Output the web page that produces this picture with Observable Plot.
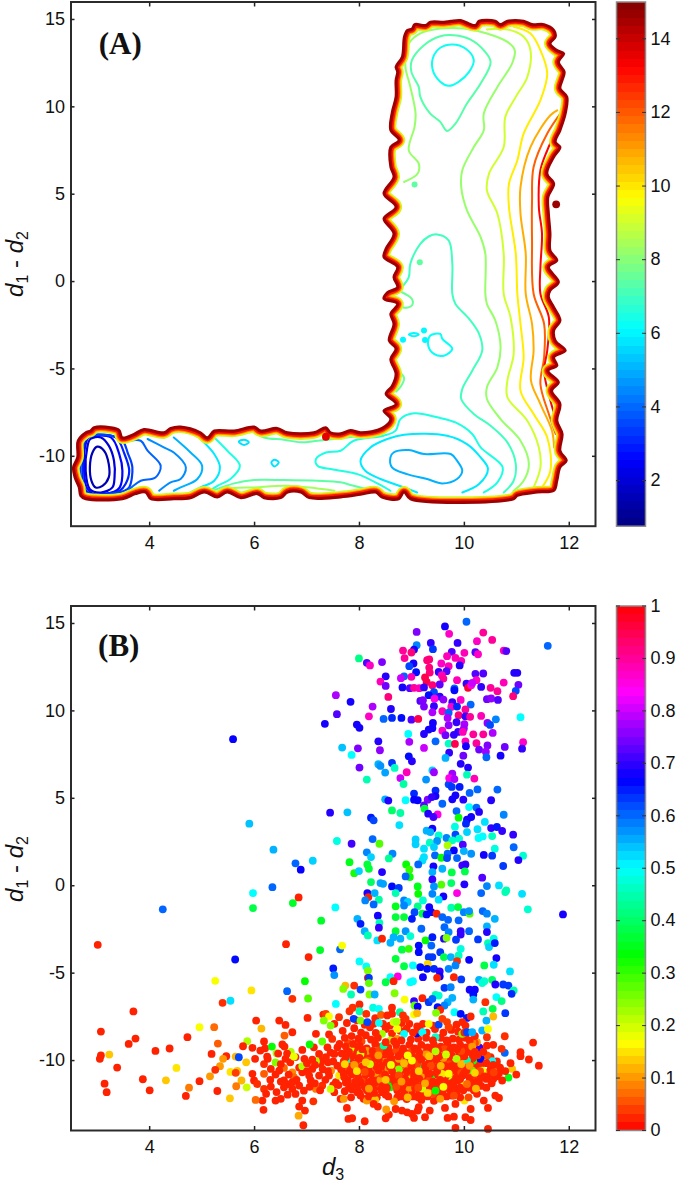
<!DOCTYPE html>
<html><head><meta charset="utf-8">
<script src="https://cdn.jsdelivr.net/npm/d3@7"></script>
<script src="https://cdn.jsdelivr.net/npm/@observablehq/plot@0.6"></script>
<style>
html,body{margin:0;background:#fff}
#fig{position:relative;width:677px;height:1188px;overflow:hidden;font-family:"Liberation Sans",Arial,sans-serif;color:#111}
#fig svg{position:absolute;overflow:visible;background:transparent}
.lab{position:absolute;font-size:24px;white-space:nowrap;line-height:24px}
.lab i{font-style:italic}
.lab sub{font-size:16px;vertical-align:-5px;line-height:0}
.rot{transform:translate(-50%,-50%) rotate(-90deg)}
</style></head><body>
<div id="fig">
<div class="lab rot" style="left:15px;top:264px"><i>d</i><sub>1</sub> - <i>d</i><sub>2</sub></div>
<div class="lab rot" style="left:15px;top:869px"><i>d</i><sub>1</sub> - <i>d</i><sub>2</sub></div>
<div class="lab" style="left:322px;top:1155px"><i>d</i><sub>3</sub></div>
</div>
<script>
const xTicks=[4,6,8,10,12];
const yTicks=[-10,-5,0,5,10,15];
const barTicksA=[2,4,6,8,10,12,14];
const barTicksB=[0,.1,.2,.3,.4,.5,.6,.7,.8,.9,1];
const xDomain=[2.5,12.5], yDomain=[-14,16];
const energyDomain=[0.76,15], fractionDomain=[0,1];
const jetStops=["#000080","#0000ff","#0080ff","#00ffff","#80ff80","#ffff00","#ff8000","#ff0000","#800000"];
const hsvStops=["#ff0000","#ffff00","#00ff00","#00ffff","#0000ff","#ff00ff","#ff0000"];

// free-energy contours: [level, closed?, d3, d1-d2, d3, d1-d2, ...]
const boundary=[8.85,14.01,8.91,14.39,9.0,14.48,9.05,14.73,9.26,14.68,9.35,14.87,9.61,14.87,9.74,14.92,9.93,14.96,10.09,14.77,10.21,14.68,10.28,14.92,10.59,14.92,10.69,14.73,10.82,14.92,11.13,14.92,11.29,14.73,11.52,14.73,11.71,14.39,11.74,14.01,11.64,13.62,11.77,13.24,11.9,13.05,11.8,12.57,11.91,12.0,11.87,11.52,11.83,11.05,11.96,10.57,11.93,9.61,11.83,8.66,11.74,7.99,11.83,7.7,11.71,7.13,11.58,6.18,11.71,5.6,11.6,4.84,11.61,3.88,11.64,2.74,11.64,1.78,11.77,1.21,11.61,.83,11.8,-.03,11.64,-.51,11.61,-.89,11.71,-1.47,11.83,-2.23,11.71,-2.8,11.74,-3.38,11.93,-3.95,11.71,-4.33,11.77,-4.81,11.6,-5.1,11.8,-5.76,11.67,-6.24,11.83,-7.01,11.77,-7.96,11.87,-8.72,11.83,-9.68,11.95,-10.25,11.83,-10.63,11.77,-11.4,11.71,-11.97,11.39,-12.07,11.01,-12.26,10.94,-12.45,8.97,-12.45,8.85,-12.07,8.75,-12.45,8.43,-12.36,8.31,-12.07,8.02,-12.2,7.64,-12.35,7.04,-12.39,6.88,-12.07,6.63,-12.07,6.5,-12.39,6.18,-12.39,6.05,-12.16,5.74,-12.39,5.48,-12.07,5.29,-12.35,5.04,-12.07,4.78,-12.39,4.46,-12.45,4.02,-12.45,3.92,-12.07,3.73,-12.16,3.48,-12.45,2.78,-12.45,2.68,-12.26,2.65,-11.78,2.57,-11.21,2.54,-10.63,2.62,-10.06,2.63,-9.11,2.78,-8.63,2.87,-8.53,2.94,-8.34,3.26,-8.34,3.42,-8.5,3.48,-8.92,3.7,-8.72,3.89,-8.44,4.27,-8.63,4.4,-8.38,4.59,-8.3,4.97,-8.63,5.1,-8.92,5.23,-8.53,5.61,-8.53,5.99,-8.3,6.12,-8.53,6.43,-8.38,6.63,-8.63,7.13,-8.63,7.36,-8.34,7.45,-8.63,7.64,-8.69,7.83,-8.5,8.02,-8.63,8.43,-8.38,8.59,-7.87,8.46,-7.39,8.69,-7.01,8.5,-6.43,8.62,-5.96,8.69,-5.29,8.59,-4.43,8.69,-3.85,8.56,-3.38,8.65,-2.42,8.59,-1.85,8.72,-1.28,8.46,-.99,8.53,-.61,8.72,-.32,8.65,.25,8.72,.83,8.46,1.4,8.5,1.88,8.65,2.74,8.46,3.6,8.69,4.27,8.46,5.03,8.65,5.98,8.59,6.56,8.59,7.7,8.75,8.09,8.59,8.66,8.62,9.71,8.69,10.57,8.69,11.52,8.72,12.0,8.69,12.29,8.81,12.86];
const contours=[
[1.5,1,3.0,-9.45,3.13,-9.68,3.22,-10.44,3.22,-11.21,3.1,-11.69,2.97,-11.78,2.89,-11.4,2.86,-10.63,2.91,-9.78],
[2.0,1,3.07,-8.92,3.22,-9.39,3.32,-10.25,3.33,-11.21,3.29,-11.78,3.07,-12.07,2.86,-11.88,2.78,-10.83,2.81,-9.49,2.87,-9.01],
[2.6,1,3.26,-8.92,3.42,-9.87,3.48,-10.83,3.43,-11.78,3.32,-12.03,2.94,-12.16,2.8,-11.78,2.75,-10.83,2.78,-9.3,2.84,-8.92],
[3.0,1,3.35,-8.92,3.52,-9.87,3.61,-10.83,3.54,-11.59,3.43,-11.97,3.07,-12.16,2.87,-12.16,2.75,-11.78,2.72,-10.83,2.75,-9.3,2.82,-8.88],
[3.4,1,3.45,-9.01,3.59,-9.87,3.67,-10.63,3.61,-11.78,3.52,-11.97,3.07,-12.2,2.84,-12.2,2.72,-11.78,2.68,-10.83,2.72,-9.49,2.8,-8.88],
[3.9,0,3.61,-9.11,3.83,-9.11,3.96,-9.68,4.21,-10.54,4.11,-11.21,3.83,-11.4,3.61,-11.88],
[4.5,0,3.96,-9.01,4.27,-9.49,4.46,-9.78,4.69,-10.63,4.59,-11.3,4.4,-11.49,4.18,-11.97],
[5.0,0,4.46,-8.92,4.78,-9.78,5.0,-10.54,4.91,-11.3,4.59,-11.78,4.46,-11.97],
[5.8,0,4.97,-9.01,5.23,-9.87,5.34,-10.63,5.23,-11.4,4.97,-11.78,4.78,-12.07],
[6.5,0,5.26,-9.01,5.48,-9.68,5.72,-10.54,5.54,-11.3,5.29,-11.69,5.1,-12.07],
[5.7,1,5.7,-9.16,5.8,-9.05,5.89,-9.2,5.8,-9.35],
[5.7,1,6.32,-10.35,6.38,-10.2,6.46,-10.35,6.38,-10.58],
[7.4,0,5.2,-11.97,5.61,-11.55,5.99,-11.36,6.56,-11.36,7.2,-11.4,7.64,-11.49,7.89,-11.69,8.27,-11.97],
[8.4,0,5.29,-12.01,5.61,-11.82,5.99,-11.78,6.63,-11.69,7.52,-11.97],
[7.4,0,6.02,-8.63,6.18,-8.92,6.56,-9.05,6.88,-9.2,7.2,-9.11,7.64,-8.97,8.02,-8.82,8.34,-8.72],
[6.5,0,8.59,-11.97,8.37,-11.59,7.96,-11.02,7.64,-10.83,7.45,-10.73,7.2,-10.54,7.17,-10.16,7.36,-9.78,7.64,-9.68,7.89,-9.11,8.46,-8.82,8.69,-8.53,8.78,-7.87,9.04,-7.54,9.48,-7.77,9.83,-8.06,10.15,-8.72,10.31,-9.49,10.73,-10.63,10.63,-11.49,10.37,-12.07],
[5.8,0,9.1,-12.07,8.85,-11.78,8.4,-11.3,8.11,-10.83,8.02,-10.25,8.21,-9.49,8.53,-9.01,8.85,-8.76,9.67,-8.82,10.05,-9.3,10.31,-10.06,10.45,-10.73,10.28,-11.59,9.96,-12.07],
[5.0,1,8.59,-10.06,8.65,-9.78,8.94,-9.64,9.23,-9.87,9.74,-9.87,9.86,-10.25,9.96,-10.83,9.86,-11.3,9.58,-11.55,9.29,-11.3,8.91,-11.02,8.62,-10.63],
[6.2,1,9.35,-3.09,9.54,-3.0,9.58,-3.28,9.77,-3.85,9.61,-4.24,9.42,-4.14,9.31,-3.66],
[6.0,1,8.94,-3.03,9.04,-2.94,9.13,-3.03,9.04,-3.13],
[7.0,0,8.81,-.32,8.94,.25,8.97,1.02,9.16,2.16,9.32,2.58,9.48,2.7,9.7,2.36,9.77,1.02,9.77,-.7,9.83,-1.28,10.09,-2.13,10.28,-2.99,10.34,-3.95,10.15,-5.1,9.96,-6.15,9.94,-6.72,10.18,-7.58,10.5,-8.25,10.82,-9.2,10.98,-10.44,10.94,-11.4,10.75,-12.07],
[7.6,0,8.81,-.61,9.0,-1.0,9.0,-1.37,8.85,-1.5,8.75,-1.3],
[7.6,0,8.72,-5.1,8.85,-5.5,8.8,-5.95,8.7,-6.3],
[8.2,0,8.85,5.7,9.11,6.18,9.13,6.75,8.94,7.51,9.05,8.85,9.07,9.61,8.97,11.14,8.88,12.19,8.88,12.86,8.94,13.62,9.16,14.2,9.54,14.48,9.99,14.48,10.43,14.2,10.82,13.72,10.96,13.24,10.91,12.48,10.63,11.14,10.37,9.61,10.37,8.66,10.18,7.7,9.96,6.37,9.94,5.41,10.05,4.07,10.31,2.55,10.4,1.59,10.4,-.7,10.43,-1.28,10.59,-2.23,10.69,-3.76,10.63,-4.9,10.43,-6.05,10.43,-6.72,10.69,-7.87,11.07,-9.11,11.23,-10.44,11.13,-11.4,10.94,-11.97],
[7.3,1,9.67,8.62,9.54,9.14,9.35,9.61,9.16,10.57,9.13,11.14,8.99,12.0,9.0,12.67,9.23,13.53,9.54,14.04,9.8,14.1,10.12,13.85,10.37,13.24,10.5,12.57,10.31,11.33,10.05,10.19,9.83,9.04],
[6.3,1,9.77,13.57,10.02,13.34,10.18,12.67,10.09,12.0,9.89,11.43,9.7,11.2,9.54,11.43,9.39,12.19,9.42,12.96,9.54,13.38],
[9.0,0,10.43,14.43,10.82,14.43,11.13,14.01,11.26,13.24,11.2,11.71,10.98,10.57,10.78,9.42,10.75,7.7,10.47,6.18,10.43,5.22,10.63,3.88,10.75,1.59,10.75,-.7,10.88,-2.04,10.94,-4.14,10.82,-5.67,10.82,-6.62,11.2,-7.96,11.42,-9.49,11.45,-10.63,11.32,-11.78],
[9.9,0,10.94,14.58,11.26,14.2,11.45,13.24,11.58,11.91,11.45,10.38,11.13,8.47,11.01,6.94,10.85,5.6,10.85,4.27,10.98,1.59,11.01,-.7,11.07,-2.42,11.13,-4.33,11.07,-6.24,11.32,-7.58,11.58,-8.92,11.64,-10.83,11.48,-11.78],
[10.8,0,11.77,9.8,11.64,9.52,11.26,7.7,11.07,5.41,11.07,3.88,11.17,1.59,11.17,-.7,11.29,-2.42,11.32,-3.95,11.27,-5.67,11.45,-7.01,11.67,-8.53,11.71,-9.49],
[11.9,0,11.83,9.61,11.58,8.47,11.32,6.56,11.29,4.65,11.29,2.36,11.32,-.7,11.52,-2.42,11.52,-4.33,11.45,-5.86,11.61,-7.58,11.74,-8.72],
[13.2,0,11.77,8.76,11.58,7.51,11.45,6.37,11.42,4.27,11.48,2.74,11.45,.83,11.45,-.7,11.61,-2.04,11.58,-3.95,11.52,-5.1,11.64,-6.81,11.77,-8.15]
];
// stray points: level, d3, d1-d2
const islandDots=[6.0,8.83,-3.33,6.0,9.25,-3.35,6.0,9.23,-2.8,7.4,9.15,1.11,7.4,9.05,5.55,14.6,11.75,4.42,13.6,7.36,-8.88];

// scatter of panel B: d3, d1-d2, fraction
const topPts=[5.59,8.38,.67,7.99,13.0,.42,7.55,10.9,.78,7.83,10.52,.68,7.57,9.81,.72,7.34,9.26,.68,7.95,9.22,.68,8.0,9.03,.68,7.67,7.9,.54,7.97,7.86,.75,7.85,7.48,.5,8.0,6.76,.74,7.44,4.18,.69,7.77,4.2,.54,5.9,3.55,.54,6.36,2.06,.55,7.57,2.56,.48,7.85,2.4,.71,6.78,1.28,.6,6.88,.92,.67,7.11,1.43,.53,7.81,1.35,.35,7.9,.72,.32,7.99,.84,.53,6.34,-.08,.6,
10.04,15.1,.6,9.63,14.83,.68,9.09,14.52,.75,9.71,14.41,.87,10.36,14.48,.9,10.24,13.99,.87,10.53,14.06,.9,9.36,13.89,.7,9.87,13.89,.7,9.09,13.76,.58,9.4,13.53,.63,9.04,13.51,.68,8.83,13.45,.9,8.99,13.34,.92,8.86,13.02,.9,9.76,13.38,.72,10.0,13.32,.88,10.21,13.36,.72,10.26,13.24,.87,10.75,13.45,.88,10.8,13.42,.72,11.59,13.72,.6,8.14,12.75,.72,8.2,12.6,.87,8.43,12.79,.75,9.67,13.13,.88,9.83,13.03,.88,9.94,12.86,.88,9.91,12.6,.69,9.29,12.9,.92,9.33,12.94,.92,9.56,12.71,.87,9.7,12.56,.88,9.33,12.48,.92,9.03,12.71,.68,8.95,12.56,.62,9.34,12.19,.92,9.08,12.21,.66,9.51,12.23,.7,9.66,12.27,.72,9.57,12.04,.88,8.85,11.98,.6,8.5,11.98,.69,8.79,11.87,.8,8.99,11.95,.88,9.25,11.91,.95,9.28,11.66,.95,9.6,11.85,.9,10.21,12.12,.72,10.36,12.14,.72,10.95,12.18,.69,11.01,12.18,.69,8.4,11.68,.88,8.5,11.43,.74,9.86,11.76,.88,10.04,11.56,.7,10.07,11.32,.97,10.13,11.47,.85,10.23,11.76,.87,10.15,11.6,.8,10.75,11.62,.88,11.03,11.49,.74,9.53,11.51,.73,9.39,11.47,.92,8.82,11.34,.68,8.96,11.3,.72,9.04,11.32,.9,9.14,11.3,.88,9.23,11.34,.7,9.81,11.28,.6,9.81,11.18,.66,10.32,11.37,.7,10.5,11.32,.9,10.63,11.13,.9,10.98,11.15,.62,10.93,10.84,.92,8.55,10.8,.92,9.42,11.07,.62,9.32,10.9,.66,9.53,10.82,.7,9.43,10.7,.85,9.16,10.57,.72,9.21,10.61,.75,9.6,10.65,.76,9.77,10.5,.7,9.93,10.63,.87,10.43,10.67,.74,10.51,10.71,.76,10.64,10.63,.72,10.12,10.36,.6,9.23,10.25,.75,9.42,10.27,.7,8.25,10.25,.78,8.6,10.11,.69,9.75,10.23,.87,9.86,10.25,.64,10.02,10.08,.9,9.58,9.98,.88,9.39,9.92,.78,9.7,9.9,.6,9.68,9.6,.78,9.89,9.75,.92,10.02,9.69,.7,10.11,9.66,.9,10.32,9.71,.88,10.6,9.52,.58,11.07,9.64,.5,8.18,9.69,.87,8.46,9.54,.6,8.62,9.6,.64,8.8,9.6,.66,8.99,9.5,.72,9.12,9.54,.95,9.4,9.31,.68,9.85,9.35,.7,10.44,9.31,.76,10.49,9.2,.62,10.0,9.24,.78,9.7,9.18,.76,9.39,9.01,.68,9.32,8.93,.68,9.99,8.99,.77,9.23,8.68,.69,9.58,8.87,.87,9.64,8.61,.74,9.8,8.63,.7,9.88,8.8,.7,9.97,8.8,.88,10.17,8.66,.9,10.36,8.66,.9,10.54,8.74,.78,8.93,8.68,.5,8.95,8.23,.78,8.36,8.26,.69,9.45,8.26,.6,9.7,8.13,.46,9.82,8.11,.95,10.02,8.26,.88,10.23,8.15,.9,10.03,7.98,.68,10.44,8.02,.75,11.12,8.21,.87,11.1,7.84,.7,10.77,7.94,.74,10.28,7.79,.74,10.41,7.67,.77,8.39,7.75,.76,9.23,7.88,.8,9.71,7.61,.7,10.69,7.44,.68,9.98,7.44,.74,10.42,7.35,.6,9.64,7.31,.55,8.94,7.4,.66,9.0,7.12,.69,8.62,7.02,.63,8.36,6.95,.55,8.4,6.85,.57,9.93,6.97,.69,10.07,6.76,.69,8.67,6.74,.46,8.49,6.47,.56,9.39,6.6,.53,9.42,6.49,.77,8.9,6.49,.88,9.77,6.41,.77,10.05,6.35,.45,8.78,6.16,.8,8.14,6.07,.45,9.27,6.07,.57,9.71,6.16,.85,9.81,6.1,.78,10.19,6.13,.88,8.84,5.82,.44];
const midPts=[9.7,5.8,.62,9.76,5.65,.63,9.91,5.65,.65,10.25,5.51,.6,10.63,5.5,.6,9.45,5.44,.64,9.04,5.27,.64,10.1,5.31,.6,9.83,5.17,.68,9.45,5.13,.68,9.3,4.92,.75,9.38,5.07,.7,9.04,4.92,.67,9.11,4.89,.67,9.77,4.94,.68,9.98,4.92,.69,10.51,4.89,.69,8.49,4.94,.55,8.55,4.87,.69,8.88,4.89,.5,9.23,4.6,.73,9.58,4.69,.6,10.09,4.5,.5,10.23,4.47,.6,9.24,4.41,.37,8.62,4.31,.4,8.78,4.16,.44,9.85,4.27,.6,10.28,4.22,.69,9.31,4.12,.69,9.49,4.08,.85,9.41,3.93,.71,10.75,4.06,.58,10.13,3.93,.68,9.89,3.89,.33,10.05,3.78,.68,10.03,3.55,.64,8.22,3.89,.65,8.27,3.74,.62,10.39,3.65,.52,8.76,3.47,.52,9.82,3.38,.48,10.51,3.3,.7,10.62,3.36,.65,10.72,3.13,.7,9.28,3.15,.55,9.39,3.26,.68,9.35,3.07,.55,10.05,3.07,.53,10.25,3.23,.52,9.83,2.92,.62,10.93,2.92,.7,9.51,2.88,.47,9.66,2.73,.58,9.77,2.6,.46,9.9,2.69,.47,10.27,2.73,.5,10.35,2.82,.5,10.53,2.84,.46,8.25,2.67,.6,8.38,2.4,.28,9.07,2.65,.53,9.07,2.37,.53,9.34,2.46,.46,9.48,2.56,.57,9.68,2.31,.22,9.8,2.02,.67,9.97,2.35,.72,9.23,2.12,.52,9.42,2.21,.53,9.99,1.98,.55,10.13,1.83,.57,10.58,2.12,.48,10.94,2.2,.6,8.14,1.91,.58,8.22,1.64,.53,8.63,1.83,.58,8.56,1.56,.43,9.44,1.74,.6,9.56,1.6,.33,9.68,1.83,.6,9.67,1.58,.62,9.86,1.58,.6,10.37,1.76,.68,10.53,1.72,.63,11.12,1.72,.47,11.03,1.47,.69,9.23,1.64,.52,9.2,1.45,.52,8.15,1.22,.37,8.18,.97,.37,8.89,1.22,.33,9.12,1.22,.6,9.58,.97,.55,9.41,1.11,.68,9.96,1.16,.71,10.02,1.22,.7,10.74,1.13,.63,8.43,.78,.69,8.95,.92,.3,8.96,.5,.33,8.88,.53,.6,9.39,.78,.55,9.76,.76,.38,10.01,.82,.38,9.39,.36,.7,10.34,.46,.72,8.22,.21,.4,8.4,.15,.56,8.45,.11,.56,8.62,-.04,.66,8.75,-.13,.63,9.11,-.04,.35,9.56,.06,.28,9.42,-.04,.57,9.75,.15,.4,10.0,.08,.69,10.43,-.02,.58,10.66,.02,.52,10.8,-.27,.45,11.1,-.46,.52,
3.01,-3.38,.01,4.25,-1.35,.6,5.97,-.42,.5,6.84,-.67,.01,5.97,-1.28,.38,6.73,-.99,.36,7.54,-1.24,.5,7.27,-2.0,.36,6.6,-3.34,.01,7.25,-3.68,.36,5.63,-4.22,.66,7.03,-4.08,.01,7.63,-3.64,.6,7.5,-4.73,.65,7.52,-5.11,.57,5.25,-5.44,.17,6.96,-5.46,.33,5.94,-5.99,.15,6.62,-6.03,.6,5.54,-6.58,.52,5.39,-6.7,.03,6.72,-6.47,.03,7.02,-6.45,.28,7.55,-6.76,.5,
8.15,-.42,.68,8.17,-.65,.02,8.29,-.42,.55,8.11,-.84,.58,8.37,-.8,.44,8.27,-1.07,.6,8.69,-.42,.45,8.85,-.84,.58,8.92,-.93,.53,9.12,-.46,.33,9.21,-.84,.47,9.39,-.46,.58,9.6,-.61,.68,9.51,-.8,.52,8.85,-1.13,.58,8.69,-1.18,.35,9.11,-1.18,.42,9.33,-1.22,.68,9.05,-1.51,.62,9.2,-1.6,.38,9.28,-1.64,.66,9.37,-1.51,.66,9.47,-1.6,.02,9.75,-1.26,.45,9.88,-1.22,.37,9.99,-1.51,.58,10.1,-1.6,.28,10.09,-1.45,.57,10.35,-1.45,.6,10.43,-1.6,.58,10.58,-1.89,.55,11.21,-1.35,.47,10.78,-.36,.45,10.32,-.42,.6,9.86,-.42,.85,11.88,-1.64,.68,8.35,-1.71,.68,8.69,-1.79,.37,8.85,-1.79,.37,9.0,-1.89,.65,7.96,-1.89,.55,8.02,-2.18,.65,8.38,-2.12,.45,8.37,-2.4,.7,9.18,-2.46,.6,9.58,-1.79,.6,9.69,-1.95,.6,9.89,-1.98,.6,9.62,-2.37,.6,9.7,-2.65,.58,10.43,-2.33,.55,10.43,-2.65,.69,9.93,-2.6,.7,9.93,-2.79,.7,10.09,-2.6,.6,8.69,-2.6,.37,8.88,-2.6,.57,8.1,-2.6,.55,8.16,-2.84,.45,8.34,-3.13,.52,8.43,-3.03,.01,8.59,-3.26,.55,8.65,-2.94,.55,8.78,-3.03,.55,8.97,-2.88,.47,9.26,-3.13,.33,9.39,-2.94,.65,9.37,-3.42,.6,9.61,-3.03,.69,9.66,-2.98,.25,9.84,-3.09,.63,10.26,-3.07,.63,10.45,-3.28,.45,10.47,-3.51,.53,10.56,-3.03,.48,10.58,-3.28,.65,9.13,-3.42,.66,9.13,-3.8,.66,8.81,-3.66,.38,8.94,-3.61,.3,9.93,-3.61,.48,9.89,-3.99,.46,9.54,-3.8,.63,9.39,-4.08,.63,9.32,-4.08,.63,9.61,-4.08,.38,9.74,-4.08,.55,8.69,-4.18,.37,9.86,-4.31,.03,10.09,-4.24,.67,10.61,-4.14,.68,10.38,-4.56,.38,10.56,-4.52,.52,8.0,-4.33,.5,8.13,-4.62,.5,8.16,-4.85,.25,8.85,-4.6,.38,9.02,-4.56,.5,9.3,-4.47,.14,9.16,-4.66,.66,9.29,-4.75,.66,9.42,-4.75,.64,9.53,-4.9,.7,9.7,-4.75,.58,9.83,-4.56,.58,10.87,-4.9,.52,9.21,-5.23,.68,9.53,-5.19,.67,9.48,-5.27,.02,9.8,-5.23,.02,9.94,-5.36,.63,8.73,-5.19,.85,8.59,-5.23,.5,8.5,-5.52,.38,8.65,-5.46,.02,8.16,-5.27,.02,8.18,-5.27,.63,8.18,-5.57,.27,8.97,-5.52,.5,9.02,-5.46,.5,10.28,-5.38,.55,10.38,-5.46,.47,10.53,-5.38,.4,10.34,-5.57,.47,10.59,-5.65,.69,10.74,-5.65,.63,10.84,-5.71,.63,10.94,-5.99,.45,10.9,-6.18,.64,7.67,-3.42,.17,7.73,-5.71,.12,7.69,-5.9,.25,7.9,-5.71,.03,8.02,-5.94,.62,7.84,-6.22,.45,8.19,-6.22,.25,8.29,-6.22,.55,8.67,-6.15,.25,9.62,-5.84,.63,9.74,-5.8,.58,10.1,-5.95,.68,10.2,-5.95,.68,10.17,-6.22,.66,10.17,-6.51,.55,9.45,-6.24,.45,9.51,-6.28,.47,9.2,-6.43,.02,9.04,-6.6,.7,8.86,-6.51,.17,9.05,-6.85,.27,9.11,-6.91,.67,9.32,-6.66,.63,9.39,-6.47,.6,9.77,-6.41,.55,9.68,-6.66,.55,9.62,-6.85,.58,10.4,-6.66,.03,10.61,-6.37,.5,10.71,-6.6,.42,10.54,-7.04,.38,10.36,-7.19,.45,10.78,-7.29,.63,10.55,-7.48,.12,10.42,-7.71,.55,9.49,-6.95,.66,9.54,-7.1,.02,9.46,-7.27,.25,9.81,-7.23,.5,9.93,-7.33,.66,10.05,-7.56,.65,10.12,-7.48,.02,8.26,-6.98,.48,8.37,-7.04,.5,8.62,-6.98,.02,8.77,-7.23,.44,9.04,-7.37,.17,9.1,-7.29,.12,7.87,-6.98,.03,7.81,-7.18,.03,8.0,-6.79,.02,8.0,-7.18,.45,8.13,-7.33,.03,7.89,-7.61,.63,8.02,-7.71,.25,8.3,-7.58,.02,8.41,-7.39,.06,8.53,-7.42,.02,8.62,-7.33,.02,8.83,-7.42,.03,8.88,-7.61,.03,8.65,-7.8,.2,8.71,-7.77,.22,8.27,-7.9,.02,8.15,-7.8,.62,8.37,-7.84,.5,9.21,-7.9,.02,9.51,-7.94,.62,9.32,-7.9,.17,9.58,-7.61,.04,9.67,-7.8,.04,9.7,-8.09,.04,9.96,-7.8,.02,10.02,-8.0,.02,10.05,-8.38,.62,10.15,-8.38,.55,10.34,-8.28,.55,10.45,-8.19,.17];
const leftPts=[3.69,-7.19,.01,3.07,-8.34,.01,7.01,-7.56,.01,7.31,-7.37,.01,7.36,-7.33,.04,7.42,-7.48,.17,6.03,-7.71,.01,6.47,-7.71,.02,6.59,-7.96,.02,4.95,-8.09,.17,5.23,-8.09,.07,6.13,-8.17,.12,7.52,-7.9,.01,7.61,-7.52,.03,3.73,-8.74,.01,3.6,-9.05,.01,4.72,-8.66,.01,6.72,-8.38,.02,7.17,-8.47,.02,7.42,-8.51,.02,7.32,-7.71,.25,7.45,-8.0,.25,6.57,-8.57,.06,6.18,-8.91,.02,5.86,-8.89,.22,5.3,-9.03,.06,5.78,-9.18,.01,5.96,-9.27,.01,6.53,-9.08,.01,6.57,-9.2,.01,4.38,-9.31,.01,4.11,-9.45,.01,3.07,-9.71,.01,3.05,-9.9,.01,3.23,-9.66,.13,5.18,-9.62,.01,5.46,-9.75,.01,5.4,-9.9,.1,5.64,-9.77,.12,5.7,-9.81,.62,6.11,-9.43,.01,6.24,-9.77,.01,6.01,-9.9,.01,6.91,-9.39,.01,7.13,-9.24,.01,7.23,-9.62,.01,7.48,-8.76,.03,7.39,-9.24,.01,7.58,-9.24,.01,3.38,-10.4,.01,4.51,-10.42,.15,5.34,-10.32,.1,5.84,-10.1,.13,5.67,-10.59,.13,5.54,-10.65,.15,5.25,-10.53,.03,5.64,-10.7,.04,5.96,-10.76,.01,6.18,-10.2,.03,6.18,-10.76,.06,6.31,-10.48,.01,6.59,-9.9,.01,6.56,-10.42,.07,6.47,-10.57,.01,6.72,-10.67,.09,6.91,-10.67,.01,6.75,-10.95,.07,7.1,-10.48,.01,7.26,-10.19,.01,7.46,-10.57,.09,7.58,-10.29,.01,7.36,-9.81,.01,7.52,-9.62,.01,5.15,-10.9,.1,3.87,-11.07,.01,4.31,-11.13,.13,4.95,-11.18,.01,3.14,-11.32,.01,5.75,-11.14,.12,5.65,-11.47,.08,5.85,-11.53,.2,4.75,-11.55,.08,4.0,-11.7,.01,3.18,-11.81,.01,5.29,-11.74,.02,4.69,-12.02,.01,5.53,-12.16,.13,5.99,-11.14,.01,6.05,-11.34,.03,6.18,-11.62,.03,6.31,-11.49,.01,6.56,-11.14,.01,6.72,-11.24,.01,6.56,-11.53,.01,6.72,-11.62,.01,6.85,-11.43,.01,6.94,-11.72,.01,6.63,-11.95,.01,6.78,-11.91,.01,6.5,-12.19,.01,6.4,-12.29,.01,6.15,-12.29,.01,6.02,-12.25,.07,6.91,-12.29,.01,6.85,-12.63,.01,6.96,-12.86,.01,6.17,-12.82,.01,7.12,-12.33,.03,6.84,-13.15,.11,6.93,-13.7,.01,7.07,-11.14,.01,7.17,-11.62,.08,7.29,-11.43,.03,7.52,-11.81,.01,7.64,-12.19,.01,7.55,-11.24,.01,7.42,-10.86,.01,7.23,-10.86,.01,7.04,-10.86,.01];
const cloudRed=[7.72,-8.7,7.85,-8.6,7.98,-8.75,8.12,-8.55,8.22,-8.8,8.35,-8.7,8.5,-8.95,8.66,-8.9,8.8,-8.85,8.98,-8.8,9.12,-8.75,9.27,-8.7,9.4,-8.85,9.55,-8.7,9.66,-8.85,9.78,-8.75,9.9,-8.8,10.02,-8.7,10.1,-8.85,
7.62,-9.05,7.74,-9.2,7.88,-9.05,8.0,-9.15,8.14,-9.3,8.3,-9.05,8.42,-9.2,8.55,-9.25,8.7,-9.1,8.83,-9.3,8.95,-9.1,9.05,-9.3,9.18,-9.1,9.3,-9.25,9.42,-9.1,9.55,-9.2,9.68,-9.05,9.8,-9.25,9.92,-9.1,10.03,-9.25,10.12,-9.3,10.3,-9.3,
7.66,-9.6,7.8,-9.5,7.93,-9.7,8.07,-9.55,8.2,-9.7,8.33,-9.5,8.47,-9.65,8.6,-9.55,8.74,-9.75,8.87,-9.55,9.0,-9.7,9.14,-9.55,9.25,-9.75,9.38,-9.6,9.52,-9.75,9.64,-9.5,9.76,-9.7,9.9,-9.55,10.0,-9.75,10.13,-9.55,10.25,-9.7,10.36,-9.5,10.5,-9.8,
7.7,-10.05,7.83,-9.9,7.96,-10.1,8.1,-9.95,8.24,-10.15,8.37,-9.95,8.52,-10.1,8.65,-9.95,8.8,-10.15,8.93,-9.95,9.06,-10.1,9.18,-9.95,9.32,-10.15,9.46,-9.95,9.58,-10.1,9.7,-9.95,9.83,-10.15,9.95,-9.95,10.1,-10.15,10.22,-10.05,10.42,-10.15,10.55,-10.25,10.68,-10.4,
7.65,-10.5,7.78,-10.35,7.92,-10.55,8.05,-10.35,8.18,-10.5,8.32,-10.35,8.45,-10.55,8.58,-10.35,8.72,-10.5,8.86,-10.35,8.98,-10.55,9.12,-10.4,9.26,-10.55,9.4,-10.35,9.52,-10.5,9.65,-10.35,9.78,-10.55,9.9,-10.4,10.04,-10.55,10.2,-10.4,10.3,-10.3,10.5,-10.5,10.78,-10.6,
7.71,-10.95,7.85,-10.8,7.98,-11.0,8.12,-10.8,8.26,-10.95,8.4,-10.8,8.53,-11.0,8.66,-10.85,8.8,-11.0,8.92,-10.8,9.05,-10.95,9.18,-10.8,9.3,-10.95,9.44,-10.8,9.58,-11.0,9.7,-10.85,9.84,-11.0,9.97,-10.85,10.1,-11.0,10.3,-10.9,10.55,-11.05,10.62,-10.9,
7.6,-11.4,7.74,-11.25,7.88,-11.45,8.02,-11.25,8.16,-11.4,8.3,-11.25,8.44,-11.45,8.68,-11.25,8.82,-11.45,8.95,-11.25,9.08,-11.4,9.22,-11.25,9.34,-11.45,9.5,-11.25,9.62,-11.45,9.74,-11.3,9.87,-11.15,10.12,-11.25,10.2,-11.4,10.28,-11.15,10.52,-11.3,
7.72,-11.75,7.86,-11.65,8.0,-11.85,8.14,-11.7,8.28,-11.85,8.42,-11.65,8.72,-11.7,8.86,-11.85,9.0,-11.7,9.14,-11.85,9.28,-11.7,9.58,-11.8,9.72,-11.65,9.85,-11.85,9.98,-11.7,10.18,-11.7,10.24,-11.9,10.42,-11.55,
7.84,-12.1,7.96,-11.81,8.08,-12.19,8.24,-11.53,8.43,-11.81,8.27,-12.48,8.35,-12.63,8.55,-12.05,8.72,-12.1,8.9,-12.2,9.05,-12.05,9.18,-12.25,9.3,-12.05,9.42,-12.3,9.66,-12.05,9.83,-12.48,9.92,-12.1,10.37,-12.29,10.59,-12.0,10.66,-12.14,10.45,-12.71,
7.76,-12.71,7.79,-13.34,7.86,-13.3,8.1,-13.47,8.56,-13.09,8.5,-13.3,8.69,-12.77,8.81,-12.86,8.91,-12.96,9.0,-13.05,9.04,-13.28,9.13,-12.67,9.11,-12.86,9.25,-13.24,9.34,-12.86,9.63,-12.71,9.68,-13.28,9.8,-13.21,9.83,-13.85,10.12,-12.77,10.02,-13.24,10.12,-13.4,10.45,-13.91,
6.2,-9.3,6.25,-9.9,6.45,-9.6,6.5,-10.2,6.62,-9.6,6.68,-10.1,6.78,-9.8,6.85,-10.4,6.95,-9.9,7.0,-10.15,7.1,-9.95,7.15,-10.25,7.28,-10.0,7.3,-10.5,7.4,-10.1,7.45,-9.55,7.5,-10.05,6.4,-10.8,6.5,-11.2,6.65,-10.8,6.8,-11.1,7.0,-10.6,7.15,-11.3,7.25,-11.7,7.35,-11.1,7.5,-11.4,7.4,-10.6,6.3,-11.1,6.22,-11.9,6.42,-11.8,6.62,-11.35,7.05,-11.5,
7.68,-8.3,7.9,-8.15,8.03,-8.4,8.2,-8.1,8.31,-8.42,8.5,-8.2,8.62,-8.45,8.78,-8.3,8.9,-8.18,9.02,-8.4,9.15,-8.25,9.28,-8.4,9.44,-8.2,9.6,-8.4,9.75,-8.25,9.88,-8.35,10.0,-8.4,10.2,-8.6,
7.95,-7.7,8.1,-7.95,8.45,-7.9,8.58,-8.0,8.8,-7.85,8.95,-7.9,9.1,-8.05,9.4,-8.0,9.85,-7.95,7.76,-7.85,
7.77,-9.4,7.91,-9.3,8.05,-9.35,8.25,-9.45,8.5,-9.4,8.8,-9.6,9.1,-9.35,9.36,-9.4,9.5,-9.4,9.73,-9.4,9.86,-9.35,10.06,-9.45,10.2,-9.5,
7.74,-9.8,7.88,-10.3,8.0,-9.85,8.13,-10.2,8.28,-9.85,8.42,-10.3,8.57,-9.8,8.7,-10.2,8.86,-9.8,8.99,-10.3,9.12,-9.8,9.25,-10.3,9.38,-9.85,9.51,-10.3,9.64,-9.8,9.76,-10.3,9.9,-9.8,10.04,-10.3,10.16,-9.85,10.32,-10.1,10.48,-9.98,10.62,-10.05,
7.7,-10.75,7.82,-10.6,7.96,-10.8,8.08,-10.55,8.22,-10.75,8.36,-10.55,8.49,-10.8,8.62,-10.6,8.77,-10.75,8.9,-10.6,9.04,-10.7,9.2,-10.6,9.34,-10.75,9.48,-10.6,9.6,-10.65,9.72,-10.65,9.87,-10.75,10.0,-10.7,10.2,-10.75,10.38,-10.9,10.5,-10.8,
7.78,-11.15,7.92,-11.2,8.08,-11.05,8.2,-11.2,8.34,-11.1,8.48,-11.2,8.62,-11.05,8.76,-11.2,8.88,-11.1,9.02,-11.15,9.14,-11.05,9.26,-11.15,9.4,-11.2,9.54,-11.1,9.68,-11.1,9.8,-11.2,9.92,-11.05,10.16,-11.1,10.42,-11.05,
7.8,-11.55,7.96,-11.6,8.1,-11.5,8.36,-11.5,8.52,-11.55,8.78,-11.6,8.92,-11.5,9.06,-11.55,9.2,-11.45,9.42,-11.5,9.55,-11.6,9.8,-11.5,9.92,-11.55,10.1,-11.55,10.32,-11.45,
8.02,-12.0,8.18,-12.05,8.33,-12.1,8.5,-11.95,8.8,-12.05,8.98,-12.05,9.12,-12.1,9.24,-11.98,9.5,-12.0,9.76,-12.0];
const cloudOrange=[7.78,-9.0,8.04,-8.9,8.38,-9.4,8.7,-9.4,9.0,-9.45,9.28,-9.35,9.62,-9.35,9.94,-9.45,10.2,-9.0,7.86,-9.75,8.16,-10.0,8.5,-9.85,8.82,-10.3,9.1,-10.2,9.36,-10.3,9.7,-10.2,10.0,-10.3,10.3,-10.6,7.75,-10.6,8.1,-10.65,8.42,-10.75,8.75,-10.85,9.02,-10.75,9.33,-11.15,9.62,-10.8,9.94,-10.7,8.04,-11.1,8.35,-11.3,8.7,-11.5,9.04,-11.3,9.7,-11.55,9.8,-12.0,10.14,-10.85,7.95,-11.5,8.5,-11.75,8.86,-11.3,9.12,-11.55,9.4,-11.9,10.08,-12.1];
const cloudAmber=[7.7,-12.19,8.14,-12.29,8.51,-12.8,8.66,-12.33,9.54,-12.19,8.22,-12.19,7.9,-10.25,8.14,-9.45,8.45,-9.95,8.3,-10.7,8.75,-9.9,8.9,-10.55,9.28,-9.65,9.6,-9.85,9.95,-10.05,8.55,-10.45,8.05,-10.3,9.17,-10.9,9.5,-10.5,9.8,-10.55,10.1,-10.3,7.9,-10.75,8.4,-11.1,8.95,-11.55,9.5,-11.2,9.85,-10.75,10.4,-10.7,10.15,-9.2];
const cloudMixed=[7.83,-9.3,.2,8.02,-9.62,.2,8.43,-9.81,.15,8.46,-9.14,.44,8.59,-8.85,.22,8.72,-8.76,.1,8.43,-8.47,.23,8.72,-8.19,.17,8.85,-8.47,.5,9.09,-8.44,.66,9.2,-8.38,.5,9.45,-8.66,.47,9.96,-8.47,.25,9.45,-9.47,.22,10.15,-8.95,.08,10.28,-9.24,.7,10.24,-8.95,.1,10.43,-8.66,.03,10.77,-8.61,.03,10.43,-9.14,.02,10.55,-9.1,.02,11.31,-8.97,.02,10.71,-9.33,.03,10.77,-9.56,.6,11.07,-9.52,.01,11.07,-9.75,.01,11.23,-9.94,.02,11.42,-10.29,.01,10.88,-10.15,.02,10.91,-10.48,.13,10.99,-10.8,.01,10.84,-10.97,.35,10.72,-11.14,.01,10.66,-10.73,.01,10.56,-10.67,.04,10.63,-10.29,.1,10.53,-10.04,.5,10.43,-9.71,.05,10.31,-9.9,.66,10.17,-10.0,.35,10.05,-10.0,.45,10.34,-10.57,.17,10.15,-10.57,.28,9.96,-11.43,.15,10.05,-11.34,.07,9.77,-11.14,.22,9.58,-10.76,.15,9.37,-11.05,.33,9.45,-11.72,.33,9.2,-10.19,.42,8.75,-10.51,.25,8.56,-11.34,.33,8.59,-11.53,.33,10.0,-12.29,.15,8.3,-12.25,.13,7.45,-11.62,.2,7.61,-10.86,.15,7.05,-9.08,.33,6.33,-9.2,.33,6.42,-9.58,.23,6.4,-10.11,.25,6.69,-9.5,.22,6.75,-9.77,.18,6.91,-10.32,.22,7.17,-10.04,.22,7.29,-8.91,.27,7.75,-9.95,.45,8.2,-10.2,.2,8.6,-10.25,.18,9.0,-10.0,.17,9.65,-9.65,.2,9.4,-10.0,.22,9.0,-11.0,.15,8.3,-11.0,.2,9.2,-11.6,.2,9.85,-9.9,.22];
const cloudSpeckle=[8.12,-10.1,.13,8.36,-9.7,.1,8.85,-10.15,.12,8.92,-9.7,.17,9.13,-10.6,.14,9.33,-9.75,.13,9.55,-10.3,.12,9.7,-10.75,.17,9.94,-10.2,.12,8.5,-11.1,.13,8.8,-11.2,.1,9.25,-11.3,.11,9.6,-11.5,.17,10.2,-10.7,.14,7.95,-10.6,.15,7.72,-10.2,.14,8.18,-11.6,.1,8.92,-12.1,.12,9.3,-11.85,.14,10.22,-11.6,.12];

const triples=a=>d3.range(0,a.length,3).map(i=>({x:a[i],y:a[i+1],q:Math.max(a[i+2],.022)}));
const pairs=(a,q)=>d3.range(0,a.length,2).map(i=>({x:a[i],y:a[i+1],q}));
const pathOf=(a,level,id)=>d3.range(0,a.length,2).map(i=>({x:a[i],y:a[i+1],level,id}));

const jet={type:"linear",domain:energyDomain,interpolate:d3.piecewise(d3.interpolateRgb,jetStops),clamp:true};
const hsv={type:"linear",domain:fractionDomain,interpolate:d3.piecewise(d3.interpolateRgb,hsvStops),clamp:true};
const axisStyle={fontFamily:"'Liberation Sans',Arial,sans-serif",fontSize:18,color:"#111"};
const fmt=d=>String(d);

function panel(top,height,marginTop,marginBottom,marks,color){
  const p=Plot.plot({width:677,height,marginLeft:70.5,marginRight:82,marginTop,marginBottom,
    style:{...axisStyle,background:"transparent"},
    x:{domain:xDomain},y:{domain:yDomain},color,
    marks:[
      ...marks,
      Plot.frame({stroke:"#2b2b2b",strokeWidth:2}),
      Plot.axisX(xTicks,{anchor:"bottom",tickSize:-4,tickPadding:14,tickFormat:fmt,label:null,stroke:"#222",strokeWidth:1.5,fontSize:18,fill:"#111"}),
      Plot.axisX(xTicks,{anchor:"top",tickSize:-4,tickFormat:()=>"",label:null,stroke:"#222",strokeWidth:1.5}),
      Plot.axisY(yTicks,{anchor:"left",tickSize:-4,tickPadding:10,tickFormat:fmt,label:null,stroke:"#222",strokeWidth:1.5,fontSize:18,fill:"#111"}),
      Plot.axisY(yTicks,{anchor:"right",tickSize:-4,tickFormat:()=>"",label:null,stroke:"#222",strokeWidth:1.5})
    ]});
  p.style.left="0";p.style.top=top+"px";
  document.getElementById("fig").append(p);
  return p;
}
function bar(top,height,marginTop,marginBottom,domain,ticks,color){
  const step=(domain[1]-domain[0])/64;
  const bands=d3.range(64).map(i=>({a:domain[0]+i*step,b:domain[0]+(i+1)*step}));
  const p=Plot.plot({width:61,height,marginLeft:0,marginRight:32,marginTop,marginBottom,
    style:{...axisStyle,background:"transparent"},
    x:{domain:[0,1],axis:null},y:{domain},color,
    marks:[
      Plot.rect(bands,{x1:0,x2:1,y1:"a",y2:"b",fill:d=>(d.a+d.b)/2,shapeRendering:"crispEdges"}),
      Plot.frame({stroke:"#8a8a8a",strokeWidth:1.5}),
      Plot.axisY(ticks,{anchor:"right",tickSize:-4,tickPadding:9,tickFormat:fmt,label:null,stroke:"#333",fontSize:18,fill:"#111"}),
      Plot.axisY(ticks,{anchor:"left",tickSize:-4,tickFormat:()=>"",label:null,stroke:"#333"})
    ]});
  p.style.left="616px";p.style.top=top+"px";
  document.getElementById("fig").append(p);
}

const closedB=pathOf(boundary,15,"b");
const layer=(stroke,strokeWidth,className)=>Plot.line(closedB,{x:"x",y:"y",stroke,strokeWidth,curve:"catmull-rom-closed",strokeLinejoin:"round",className});
const contourMarks=contours.map((c,k)=>{
  const pts=pathOf(c.slice(2),c[0],k);
  return Plot.line(pts,{x:"x",y:"y",stroke:"level",strokeWidth:c[0]<3.5?2.2:2,curve:c[1]?"catmull-rom-closed":"catmull-rom",strokeLinejoin:"round"});
});
const dotsA=d3.range(0,islandDots.length,3).map(i=>({level:islandDots[i],x:islandDots[i+1],y:islandDots[i+2]}));
const pA=panel(0,560,1.5,34.3,[
  ...contourMarks,
  layer("#b8ff40",13,"band"),layer("#ffe000",11.4,"band"),layer("#ff9000",9.6,"band"),layer("#ff1a00",7.6,"band"),layer("#a80000",4.4,"band"),
  layer("#9c0000",2.2,"outline"),
  Plot.dot(dotsA,{x:"x",y:"y",r:d=>d.level>13?3.4:2,fill:"level",stroke:"none"}),
  Plot.text(["(A)"],{x:3.44,y:13.57,text:d=>d,fontFamily:"'Liberation Serif','Times New Roman',serif",fontWeight:"bold",fontSize:31,fill:"#111"})
],jet);
// the boundary bands only show on the inner side of the outline
const gs=[...pA.querySelectorAll('g.band')];
if(gs.length){
  const d=gs[0].querySelector("path").getAttribute("d");
  const ns="http://www.w3.org/2000/svg";
  const cp=document.createElementNS(ns,"clipPath");cp.setAttribute("id","inside");
  const pth=document.createElementNS(ns,"path");pth.setAttribute("d",d);cp.append(pth);
  const defs=document.createElementNS(ns,"defs");defs.append(cp);pA.prepend(defs);
  gs.forEach(g=>g.setAttribute("clip-path","url(#inside)"));
}
bar(0,560,1.5,34.3,energyDomain,barTicksA,jet);

// the dense cloud overlaps in no particular order of colour
const mix=d=>{const v=d.x*73.1-d.y*41.3;return v-Math.floor(v);};
const cloud=d3.sort([...pairs(cloudAmber,.1),...pairs(cloudOrange,.045),...pairs(cloudRed,.022),...triples(cloudMixed)],mix);
const allPts=[...triples(leftPts),...cloud,...triples(cloudSpeckle),...triples(midPts),...triples(topPts)];
panel(590,598,15.5,58,[
  Plot.dot(allPts,{x:"x",y:"y",r:3.9,fill:"q",stroke:"none"}),
  Plot.text(["(B)"],{x:3.41,y:13.68,text:d=>d,fontFamily:"'Liberation Serif','Times New Roman',serif",fontWeight:"bold",fontSize:31,fill:"#111"})
],hsv);
bar(590,598,15.5,58,fractionDomain,barTicksB,hsv);
</script>
</body></html>
